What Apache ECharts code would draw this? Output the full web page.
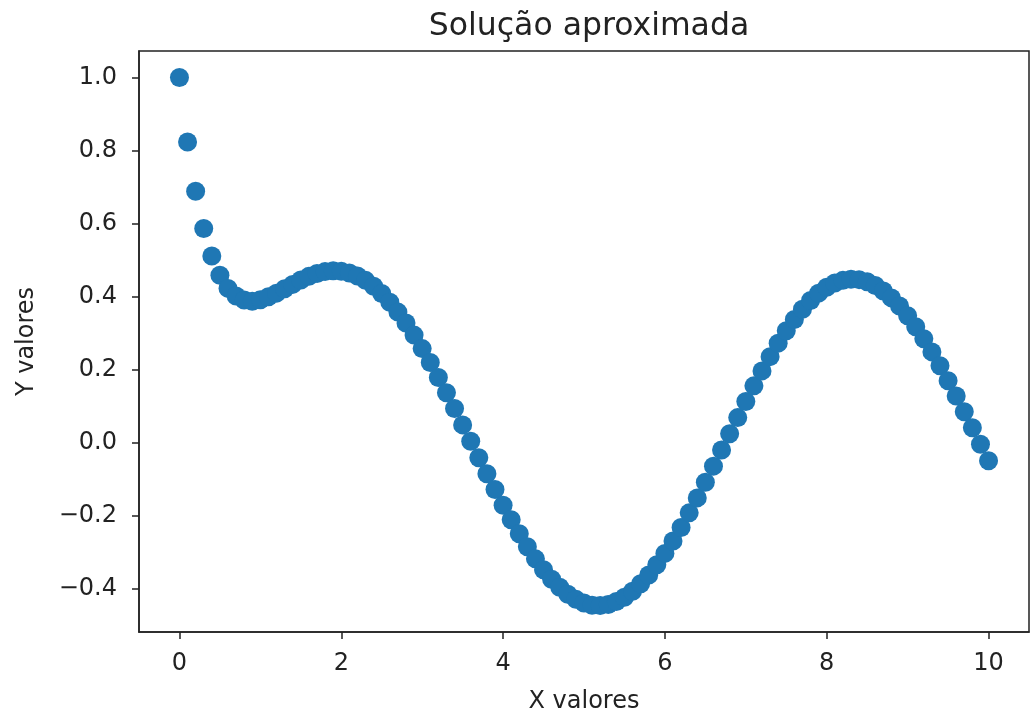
<!DOCTYPE html>
<html>
<head>
<meta charset="utf-8">
<script src="https://cdn.jsdelivr.net/npm/echarts@6/dist/echarts.min.js"></script>
<style>
html,body{margin:0;padding:0;background:#fff;}
#chart{width:1030px;height:719px;}
</style>
</head>
<body>
<div id="chart"></div>
<script>
const titleText = 'Solução aproximada';
const xName = 'X valores';
const yName = 'Y valores';

const xValues = [
  0.0, 0.1, 0.2, 0.3, 0.4, 0.5, 0.6, 0.7, 0.8, 0.9,
  1.0, 1.1, 1.2, 1.3, 1.4, 1.5, 1.6, 1.7, 1.8, 1.9,
  2.0, 2.1, 2.2, 2.3, 2.4, 2.5, 2.6, 2.7, 2.8, 2.9,
  3.0, 3.1, 3.2, 3.3, 3.4, 3.5, 3.6, 3.7, 3.8, 3.9,
  4.0, 4.1, 4.2, 4.3, 4.4, 4.5, 4.6, 4.7, 4.8, 4.9,
  5.0, 5.1, 5.2, 5.3, 5.4, 5.5, 5.6, 5.7, 5.8, 5.9,
  6.0, 6.1, 6.2, 6.3, 6.4, 6.5, 6.6, 6.7, 6.8, 6.9,
  7.0, 7.1, 7.2, 7.3, 7.4, 7.5, 7.6, 7.7, 7.8, 7.9,
  8.0, 8.1, 8.2, 8.3, 8.4, 8.5, 8.6, 8.7, 8.8, 8.9,
  9.0, 9.1, 9.2, 9.3, 9.4, 9.5, 9.6, 9.7, 9.8, 9.9,
  10.0
];

const yValues = [
  1.000, 0.823, 0.688, 0.586, 0.511, 0.458, 0.422, 0.401, 0.390, 0.387,
  0.391, 0.399, 0.409, 0.421, 0.433, 0.445, 0.455, 0.463, 0.468, 0.470,
  0.469, 0.464, 0.456, 0.444, 0.428, 0.408, 0.384, 0.357, 0.327, 0.294,
  0.257, 0.219, 0.178, 0.136, 0.093, 0.048, 0.003, -0.042, -0.086, -0.129,
  -0.172, -0.212, -0.250, -0.286, -0.319, -0.349, -0.375, -0.397, -0.416, -0.430,
  -0.440, -0.446, -0.447, -0.444, -0.436, -0.424, -0.408, -0.387, -0.363, -0.335,
  -0.304, -0.270, -0.233, -0.193, -0.152, -0.109, -0.065, -0.021, 0.024, 0.068,
  0.112, 0.155, 0.196, 0.235, 0.272, 0.306, 0.337, 0.365, 0.389, 0.409,
  0.425, 0.437, 0.444, 0.447, 0.446, 0.440, 0.430, 0.415, 0.396, 0.374,
  0.347, 0.317, 0.284, 0.248, 0.210, 0.169, 0.127, 0.084, 0.040, -0.005,
  -0.050
];

const xTicks = [0, 2, 4, 6, 8, 10];
const yTicks = [-0.4, -0.2, 0.0, 0.2, 0.4, 0.6, 0.8, 1.0];

const points = xValues.map((x, i) => [x, yValues[i]]);

const FONT = 'DejaVu Sans';
const INK = '#222';

const chart = echarts.init(document.getElementById('chart'), null, {renderer: 'canvas'});
chart.setOption({
  animation: false,
  backgroundColor: '#fff',
  title: {
    text: titleText,
    left: 584,
    textAlign: 'center',
    top: 6,
    textStyle: {fontFamily: FONT, fontSize: 31.5, fontWeight: 'normal', color: INK}
  },
  grid: {
    left: 139, top: 51, right: 1, bottom: 87,
    outerBoundsMode: 'none',
    show: true, borderColor: INK, borderWidth: 1.5, backgroundColor: 'transparent'
  },
  xAxis: {
    type: 'value',
    min: -0.5, max: 10.5,
    name: xName,
    nameLocation: 'middle',
    nameGap: 58,
    nameTextStyle: {fontFamily: FONT, fontSize: 24, color: INK},
    splitLine: {show: false},
    axisLine: {show: true, onZero: false, lineStyle: {color: INK, width: 1.5}},
    axisTick: {show: true, length: 7, lineStyle: {color: INK, width: 1.5}, customValues: xTicks},
    axisLabel: {
      margin: 20, fontFamily: FONT, fontSize: 24, color: INK,
      customValues: xTicks,
      formatter: v => String(v)
    }
  },
  yAxis: {
    type: 'value',
    min: -0.5194, max: 1.0724,
    name: yName,
    nameLocation: 'middle',
    nameRotate: 90,
    nameGap: 100,
    nameTextStyle: {fontFamily: FONT, fontSize: 24, color: INK},
    splitLine: {show: false},
    axisLine: {show: true, onZero: false, lineStyle: {color: INK, width: 1.5}},
    axisTick: {show: true, length: 7, lineStyle: {color: INK, width: 1.5}, customValues: yTicks},
    axisLabel: {
      margin: 22, fontFamily: FONT, fontSize: 24, color: INK,
      customValues: yTicks,
      formatter: v => v.toFixed(1).replace('-', '\u2212')
    }
  },
  series: [{
    type: 'scatter',
    data: points,
    symbol: 'circle',
    symbolSize: 19,
    itemStyle: {color: '#1f77b4', opacity: 1},
    silent: true
  }]
});
</script>
</body>
</html>
